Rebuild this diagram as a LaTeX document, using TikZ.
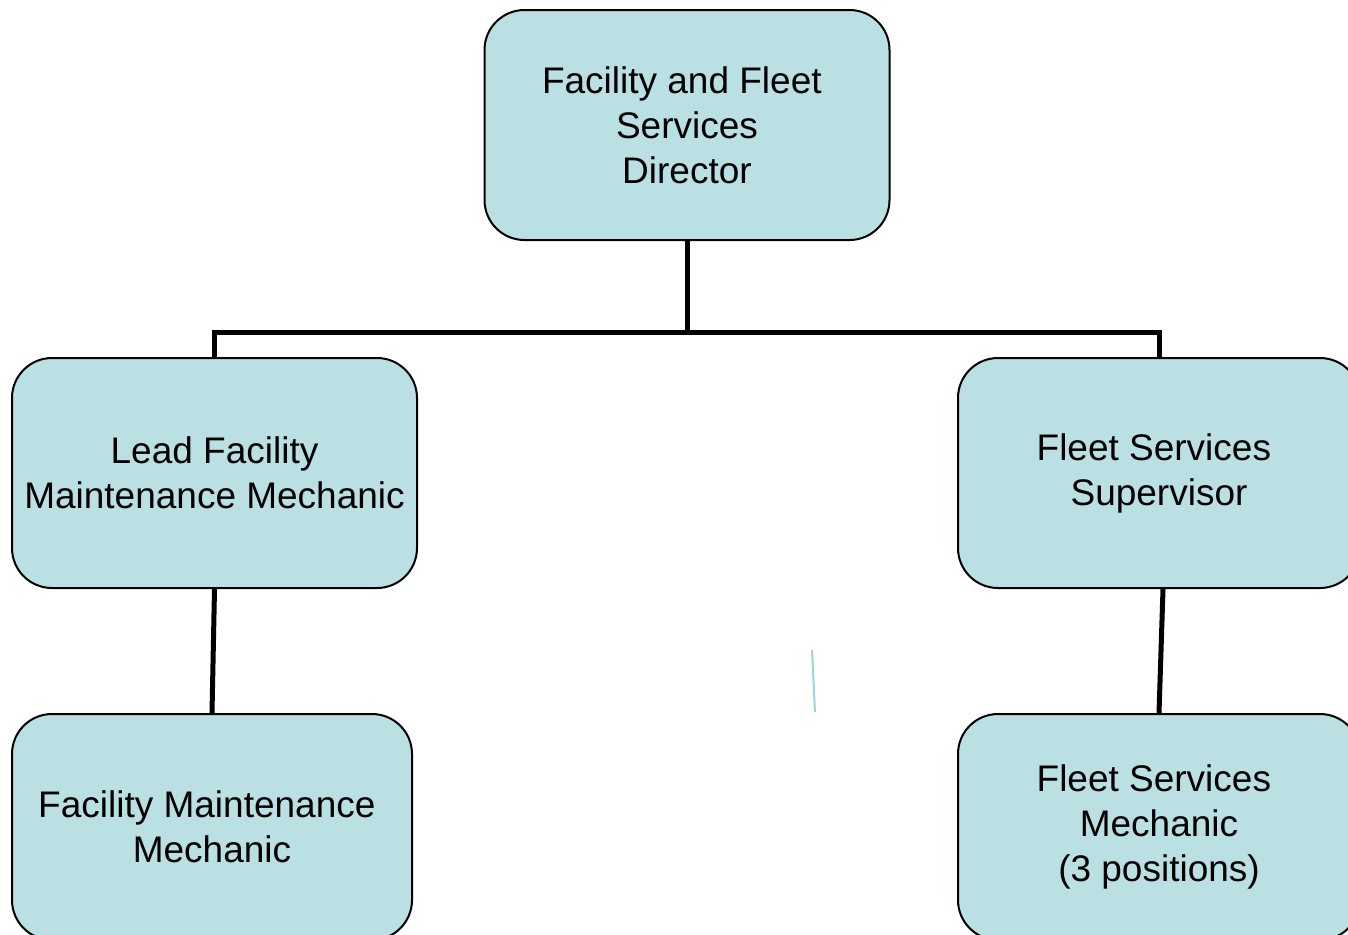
\documentclass[tikz,border=0pt]{standalone}
\usepackage{fontspec}
\setmainfont{Liberation Sans}
\usepackage{xcolor}
\definecolor{boxfill}{RGB}{187,224,227}
\definecolor{strayline}{RGB}{160,210,216}
\newcommand{\tsp}{\hspace*{0.278em}}

\begin{document}
\begin{tikzpicture}[x=0.5pt,y=-0.5pt,
  orgbox/.style={draw, line width=1pt, fill=boxfill, rounded corners=20pt,
    minimum width=202.5pt, minimum height=115pt, inner sep=0pt, align=center,
    font=\fontsize{18.5}{22.5}\selectfont},
  tie/.style={line width=2.5pt}]
\useasboundingbox (0,0) rectangle (1348,934);

% boxes
\node [orgbox] (director) at (687,125) {Facility and Fleet\tsp\\Services\tsp\\ Director};
\node [orgbox] (leadfac) at (214.5,473) {Lead Facility\\Maintenance Mechanic};
\node [orgbox, minimum width=201pt] (fleetsup) at (1159,473) {Fleet Services\tsp\\Supervisor};
\node [orgbox, minimum width=200pt, minimum height=113pt] (facmech) at (212,827) {Facility Maintenance\tsp\\Mechanic};
\node [orgbox, minimum width=201pt, minimum height=113pt] (fleetmech) at (1159,827) {Fleet Services\tsp\\Mechanic\\(3 positions)};

% ties
\coordinate (junction) at (687,332);
\draw [tie] (director.south) -- (junction) -| (leadfac.north);
\draw [tie] (junction) -| (fleetsup.north);
\draw [tie] (leadfac.south) -- (facmech.north);
\draw [tie] ([xshift=2pt]fleetsup.south) -- (fleetmech.north);

% stray mark
\draw [strayline, line width=1pt] (812,650) -- (815,712);

\end{tikzpicture}
\end{document}
